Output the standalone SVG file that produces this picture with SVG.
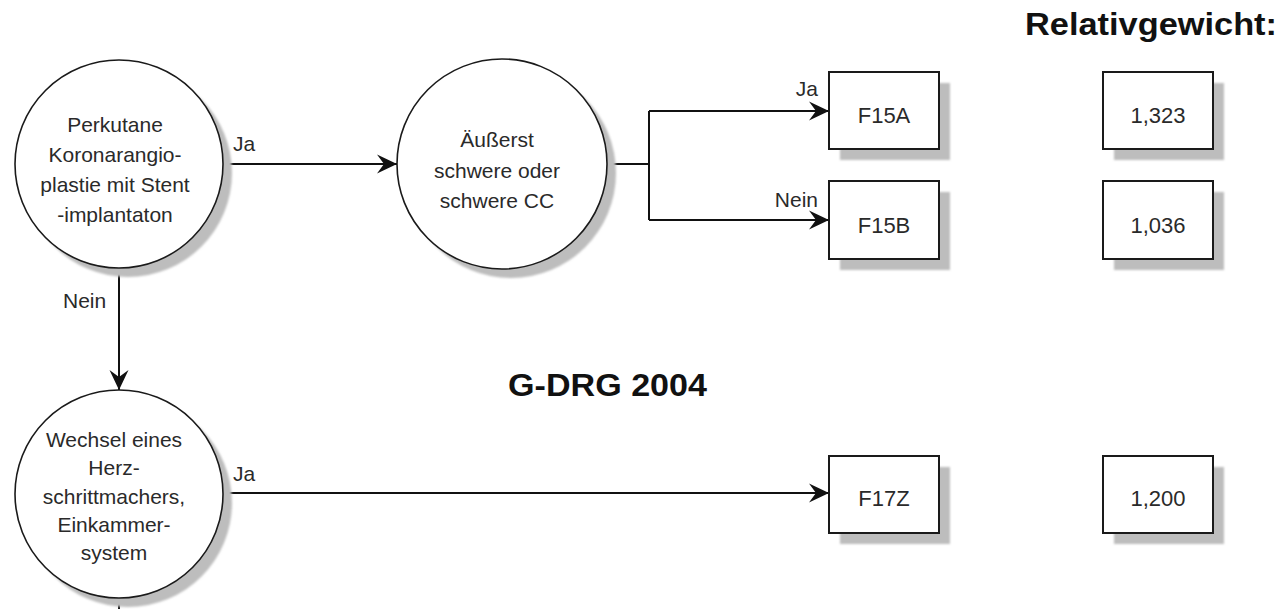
<svg xmlns="http://www.w3.org/2000/svg" width="1280" height="609" viewBox="0 0 1280 609">
  <style>
    .node { fill: #ffffff; stroke: #1a1a1a; stroke-width: 1.6; }
    .box { fill: #ffffff; stroke: #1a1a1a; stroke-width: 2; }
    .shadow { fill: #bdbdbd; filter: url(#soft); }
    .txt { font-family: "Liberation Sans", Arial, sans-serif; font-size: 21px; fill: #2a2a2a; text-anchor: middle; }
    .btxt { font-family: "Liberation Sans", Arial, sans-serif; font-size: 22px; fill: #2a2a2a; text-anchor: middle; }
    .lbl { font-family: "Liberation Sans", Arial, sans-serif; font-size: 21px; fill: #2a2a2a; }
    .title { font-family: "Liberation Sans", Arial, sans-serif; font-size: 31px; font-weight: bold; fill: #111111; }
    .edge { fill: none; stroke: #111111; stroke-width: 2; }
  </style>
  <defs>
    <filter id="soft" x="-10%" y="-10%" width="120%" height="120%">
      <feGaussianBlur stdDeviation="0.8"/>
    </filter>
    <marker id="arrow" markerUnits="userSpaceOnUse" viewBox="0 0 20 20" refX="20" refY="10" markerWidth="20" markerHeight="20" orient="auto">
      <path d="M0,0.5 L20,10 L0,19.5 L7,10 Z" fill="#111111"/>
    </marker>
  </defs>

  <rect width="1280" height="609" fill="#ffffff"/>

  <!-- headings -->
  <text class="title" x="1025" y="35" textLength="252" lengthAdjust="spacingAndGlyphs">Relativgewicht:</text>
  <text class="title" x="508" y="396" textLength="199" lengthAdjust="spacingAndGlyphs">G-DRG 2004</text>

  <!-- connectors -->
  <g id="connectors">
    <path class="edge" d="M222,164 H397" marker-end="url(#arrow)"/>
    <path class="edge" d="M607,164 H649"/>
    <path class="edge" d="M649,111 V220"/>
    <path class="edge" d="M649,111 H829" marker-end="url(#arrow)"/>
    <path class="edge" d="M649,220 H829" marker-end="url(#arrow)"/>
    <path class="edge" d="M119,268 V390" marker-end="url(#arrow)"/>
    <path class="edge" d="M223,493 H829" marker-end="url(#arrow)"/>
    <path class="edge" d="M119,598 V609"/>
    <text class="lbl" x="233" y="151">Ja</text>
    <text class="lbl" x="818" y="96" text-anchor="end">Ja</text>
    <text class="lbl" x="818" y="207" text-anchor="end">Nein</text>
    <text class="lbl" x="63" y="308">Nein</text>
    <text class="lbl" x="233" y="481">Ja</text>
  </g>

  <!-- decision: stent implantation -->
  <g id="node-perkutane">
    <circle class="shadow" cx="128" cy="173" r="104"/>
    <circle class="node" cx="119" cy="164" r="104"/>
    <text class="txt" x="115" y="132">Perkutane</text>
    <text class="txt" x="115" y="162">Koronarangio-</text>
    <text class="txt" x="115" y="192">plastie mit Stent</text>
    <text class="txt" x="115" y="222">-implantaton</text>
  </g>

  <!-- decision: complications -->
  <g id="node-cc">
    <circle class="shadow" cx="511" cy="173" r="105"/>
    <circle class="node" cx="502" cy="164" r="105"/>
    <text class="txt" x="497" y="147">Äußerst</text>
    <text class="txt" x="497" y="178">schwere oder</text>
    <text class="txt" x="497" y="208">schwere CC</text>
  </g>

  <!-- decision: pacemaker replacement -->
  <g id="node-herzschrittmacher">
    <circle class="shadow" cx="128" cy="503" r="104"/>
    <circle class="node" cx="119" cy="494" r="104"/>
    <text class="txt" x="114" y="447">Wechsel eines</text>
    <text class="txt" x="114" y="475">Herz-</text>
    <text class="txt" x="114" y="504">schrittmachers,</text>
    <text class="txt" x="114" y="532">Einkammer-</text>
    <text class="txt" x="114" y="560">system</text>
  </g>

  <!-- DRG result boxes -->
  <g id="node-f15a">
    <rect class="shadow" x="840" y="83" width="110" height="77"/>
    <rect class="box" x="829" y="72" width="110" height="77"/>
    <text class="btxt" x="884" y="123">F15A</text>
  </g>
  <g id="node-f15b">
    <rect class="shadow" x="840" y="192" width="110" height="78"/>
    <rect class="box" x="829" y="181" width="110" height="78"/>
    <text class="btxt" x="884" y="233">F15B</text>
  </g>
  <g id="node-f17z">
    <rect class="shadow" x="840" y="467" width="110" height="77"/>
    <rect class="box" x="829" y="456" width="110" height="77"/>
    <text class="btxt" x="884" y="506">F17Z</text>
  </g>

  <!-- relative weight boxes -->
  <g id="weight-f15a">
    <rect class="shadow" x="1114" y="83" width="110" height="77"/>
    <rect class="box" x="1103" y="72" width="110" height="77"/>
    <text class="btxt" x="1158" y="123">1,323</text>
  </g>
  <g id="weight-f15b">
    <rect class="shadow" x="1114" y="192" width="110" height="78"/>
    <rect class="box" x="1103" y="181" width="110" height="78"/>
    <text class="btxt" x="1158" y="233">1,036</text>
  </g>
  <g id="weight-f17z">
    <rect class="shadow" x="1114" y="467" width="110" height="77"/>
    <rect class="box" x="1103" y="456" width="110" height="77"/>
    <text class="btxt" x="1158" y="506">1,200</text>
  </g>
</svg>
